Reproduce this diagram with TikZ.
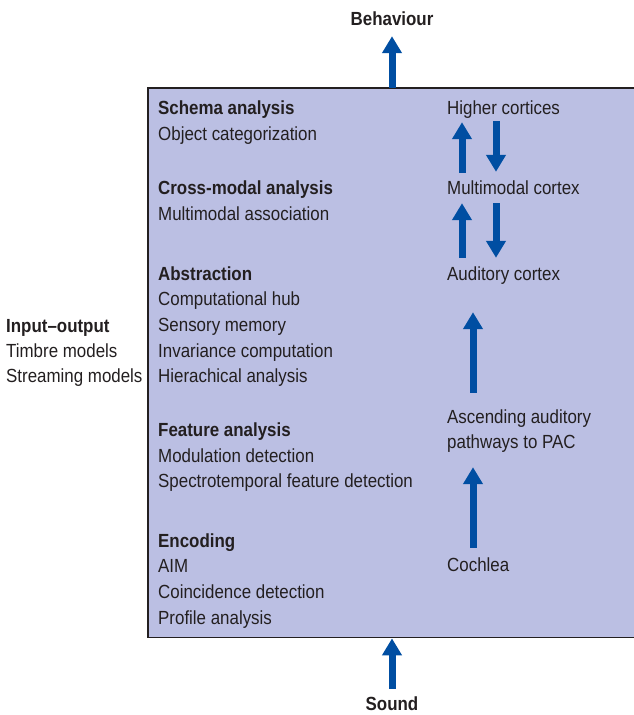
\documentclass[tikz,border=0pt]{standalone}
\usepackage{fontspec}
\setmainfont{Liberation Sans}[FakeStretch=0.89]
\usetikzlibrary{arrows.meta}
\definecolor{panelfill}{RGB}{187,191,227}
\definecolor{arrowblue}{RGB}{0,78,162}
\definecolor{textgray}{RGB}{35,31,32}
\tikzset{
  lbl/.style={anchor=base west,inner sep=0pt,text height=14pt,text depth=4pt,
    text=textgray,font=\fontsize{19}{26}\selectfont},
  hdr/.style={lbl,font=\fontsize{19}{26}\selectfont\bfseries},
  bigarrow/.style={arrowblue,line width=7pt,-{Triangle[width=19pt,length=17pt]}}
}
\begin{document}
\begin{tikzpicture}[x=1pt,y=-1pt]
    \useasboundingbox (0,0) rectangle (634,715);
    % panel (right edge runs off the page)
    \node[fill=panelfill,anchor=north west,
      minimum width=510pt,minimum height=549pt,inner sep=0pt] (panel) at (148,88) {};
    \draw[textgray,line width=1.5pt] (panel.north east) -- (panel.north west)
      -- (panel.south west) -- (panel.south east);
    % outside labels
    \node[hdr,anchor=base] (beh) at (392,25) {Behaviour};
    \node[hdr,anchor=base] (snd) at (392,710) {Sound};
    \node[hdr] (io) at (6,332) {Input--output};
    \node[lbl] (timbre) at (6,357) {Timbre models};
    \node[lbl] (stream) at (6,382) {Streaming models};
    % left column
    \node[hdr] (schema) at (158,114) {Schema analysis};
    \node[lbl] (objcat) at (158,140) {Object categorization};
    \node[hdr] (cross) at (158,194) {Cross-modal analysis};
    \node[lbl] (mmassoc) at (158,220) {Multimodal association};
    \node[hdr] (abstr) at (158,280) {Abstraction};
    \node[lbl] (comphub) at (158,305) {Computational hub};
    \node[lbl] (sensmem) at (158,331) {Sensory memory};
    \node[lbl] (invar) at (158,357) {Invariance computation};
    \node[lbl] (hier) at (158,382) {Hierachical analysis};
    \node[hdr] (feat) at (158,436) {Feature analysis};
    \node[lbl] (modul) at (158,462) {Modulation detection};
    \node[lbl] (spectro) at (158,487) {Spectrotemporal feature detection};
    \node[hdr] (enc) at (158,547) {Encoding};
    \node[lbl] (aim) at (158,572) {AIM};
    \node[lbl] (coinc) at (158,598) {Coincidence detection};
    \node[lbl] (profile) at (158,624) {Profile analysis};
    % right column
    \node[lbl] (hc) at (447,114) {Higher cortices};
    \node[lbl] (mm) at (447,194) {Multimodal cortex};
    \node[lbl] (ac) at (447,280) {Auditory cortex};
    \node[lbl] (asc) at (447,423) {Ascending auditory};
    \node[lbl] (pac) at (447,448) {pathways to PAC};
    \node[lbl] (coch) at (447,571) {Cochlea};
    % arrows
    \draw[bigarrow,shorten >=7pt] (panel.north -| beh.south) -- (beh.south);
    \draw[bigarrow,shorten <=7pt,shorten >=1pt] (snd.north) -- (panel.south -| snd.north);
    \draw[bigarrow,shorten <=7pt,shorten >=4pt] ([xshift=15pt]mm.north west) -- ([xshift=15pt]hc.south west);
    \draw[bigarrow,shorten <=3pt,shorten >=8pt] ([xshift=49pt]hc.south west) -- ([xshift=49pt]mm.north west);
    \draw[bigarrow,shorten <=8pt,shorten >=5pt] ([xshift=15pt]ac.north west) -- ([xshift=15pt]mm.south west);
    \draw[bigarrow,shorten <=5pt,shorten >=8pt] ([xshift=49pt]mm.south west) -- ([xshift=49pt]ac.north west);
    \draw[bigarrow,shorten <=16pt,shorten >=28pt] ([xshift=26pt]asc.north west) -- ([xshift=26pt]ac.south west);
    \draw[bigarrow,shorten <=9pt,shorten >=15pt] ([xshift=26pt]coch.north west) -- ([xshift=26pt]pac.south west);
\end{tikzpicture}
\end{document}
